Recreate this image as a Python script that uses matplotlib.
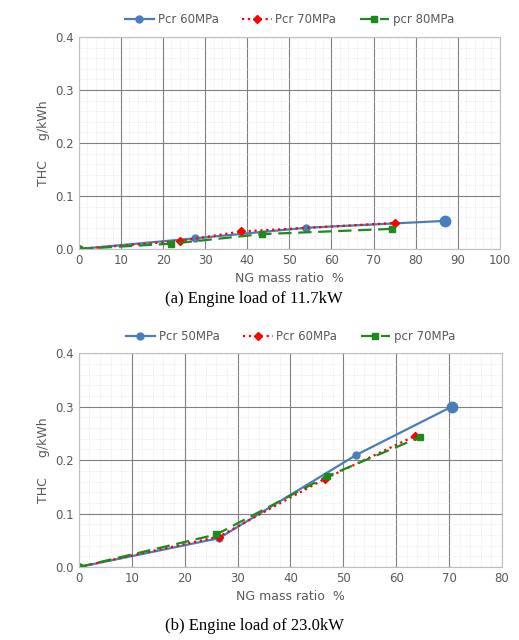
import matplotlib
matplotlib.use("Agg")
import matplotlib.pyplot as plt
from matplotlib.ticker import MultipleLocator

a_x60 = [0, 27.5, 54, 87]; a_y60 = [0, 0.020, 0.040, 0.053]
a_x70 = [0, 24, 38.5, 75]; a_y70 = [0, 0.015, 0.033, 0.049]
a_x80 = [0, 22, 43.5, 74.5]; a_y80 = [0, 0.010, 0.028, 0.038]
b_x50 = [0, 26.5, 52.5, 70.5]; b_y50 = [0, 0.054, 0.210, 0.300]
b_x60 = [0, 26.5, 46.5, 63.5]; b_y60 = [0, 0.057, 0.165, 0.245]
b_x70 = [0, 26, 47, 64.5]; b_y70 = [0, 0.061, 0.170, 0.243]
a_labels = ["Pcr 60MPa", "Pcr 70MPa", "pcr 80MPa"]
b_labels = ["Pcr 50MPa", "Pcr 60MPa", "pcr 70MPa"]

fig = plt.figure(figsize=(5.19, 6.4), dpi=100)
blue, red, green = "#4a7ebb", "#ff0000", "#1e8a1e"
tc = "#595959"

def panel(rect, series, labels, xmax, caption, cap_y):
    ax = fig.add_axes(rect)
    styles = [(blue, "-", "o", 5), (red, ":", "D", 4.5), (green, (0, (6, 3)), "s", 4.5)]
    for i, ((x, y), lab, (c, ls, m, ms)) in enumerate(zip(series, labels, styles)):
        ax.plot(x, y, color=c, ls=ls, lw=1.6, marker=m, ms=ms, label=lab)
        if i == 0:
            ax.plot(x[-1:], y[-1:], color=c, marker=m, ms=ms + 2.5, ls="none")
    ax.set_xlim(0, xmax); ax.set_ylim(0, 0.4)
    ax.xaxis.set_major_locator(MultipleLocator(10))
    ax.yaxis.set_major_locator(MultipleLocator(0.1))
    ax.xaxis.set_minor_locator(MultipleLocator(2))
    ax.yaxis.set_minor_locator(MultipleLocator(0.02))
    ax.yaxis.set_major_formatter(plt.FuncFormatter(lambda v, p: f"{v:.1f}"))
    ax.grid(which="major", color="#808080", lw=0.8)
    ax.grid(which="minor", color="#dddddd", lw=0.5, ls=":")
    ax.set_axisbelow(True)
    for s in ax.spines.values():
        s.set_color("#bfbfbf")
    ax.tick_params(which="both", length=0, colors=tc, labelsize=8.5)
    ax.set_xlabel("NG mass ratio  %", color=tc, fontsize=9)
    ax.set_ylabel("THC     g/kWh", color=tc, fontsize=9)
    ax.legend(loc="lower center", bbox_to_anchor=(0.5, 1.0), ncol=3, frameon=False,
              fontsize=8.5, labelcolor=tc, handlelength=2.5, columnspacing=2.0,
              handletextpad=0.3)
    fig.text(0.49, cap_y, caption, ha="center", fontsize=12, family="Liberation Serif")

panel([0.152, 0.611, 0.811, 0.331], [(a_x60, a_y60), (a_x70, a_y70), (a_x80, a_y80)],
      a_labels, 100, "(a) Engine load of 11.7kW", 1 - 303 / 640)
panel([0.152, 0.114, 0.815, 0.334], [(b_x50, b_y50), (b_x60, b_y60), (b_x70, b_y70)],
      b_labels, 80, "(b) Engine load of 23.0kW", 1 - 630 / 640)
fig.savefig("out.png", dpi=100)
